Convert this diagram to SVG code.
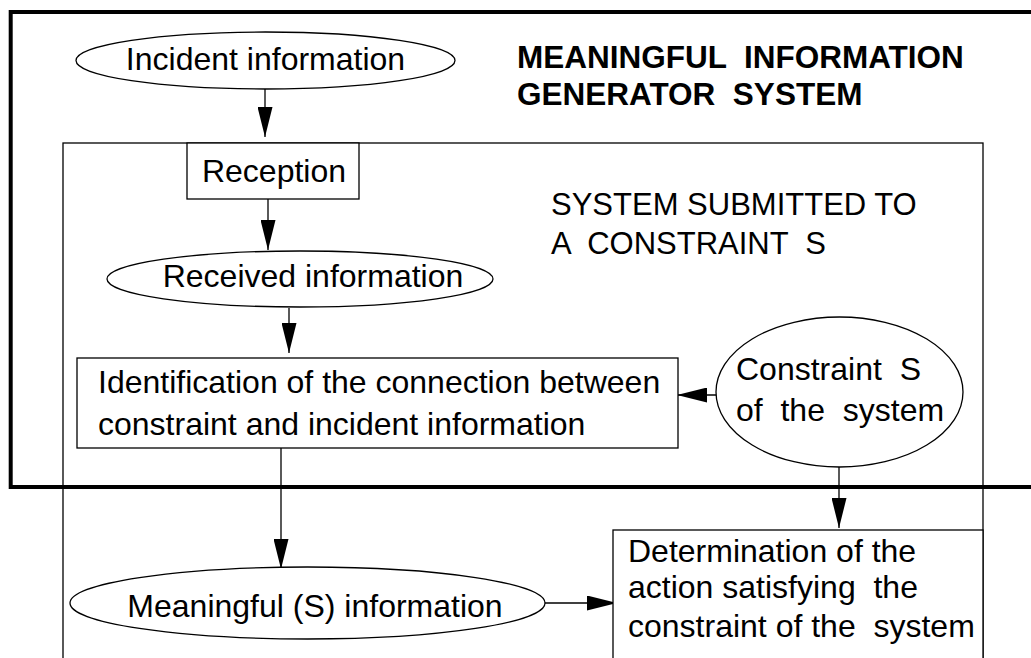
<svg xmlns="http://www.w3.org/2000/svg" width="1031" height="658" viewBox="0 0 1031 658">
<style>
.t{font-family:"Liberation Sans",Arial,sans-serif;font-size:32px;fill:#000;white-space:pre}
.b{font-weight:bold;font-size:31.5px}
.n{font-size:31px}
.m{text-anchor:middle}
.s{fill:#fff;stroke:#000;stroke-width:1.3}
.c{fill:none;stroke:#000;stroke-width:1.3}
</style>
<defs>
<marker id="ah" viewBox="0 0 30 15" refX="30" refY="7.5" markerWidth="30" markerHeight="15" orient="auto" markerUnits="userSpaceOnUse">
<path d="M0,0 L30,7.5 L0,15 z" fill="#000"/>
</marker>
</defs>
<rect width="1031" height="658" fill="#fff"/>
<g id="generator-system">
<rect x="10.7" y="12" width="1040" height="475" fill="none" stroke="#000" stroke-width="4"/>
<text class="t b" x="517" y="68">MEANINGFUL  INFORMATION</text>
<text class="t b" x="517" y="105">GENERATOR  SYSTEM</text>
</g>
<g id="submitted-system">
<rect x="63" y="143" width="920" height="540" fill="none" stroke="#000" stroke-width="1.3"/>
<text class="t n" x="551" y="215">SYSTEM SUBMITTED TO</text>
<text class="t n" x="551" y="254">A  CONSTRAINT  S</text>
</g>
<g id="connectors">
<path class="c" d="M265,89 L265,137" marker-end="url(#ah)"/>
<path class="c" d="M268,199 L268,250" marker-end="url(#ah)"/>
<path class="c" d="M289,308 L289,353" marker-end="url(#ah)"/>
<path class="c" d="M716,395 L677,395" marker-end="url(#ah)"/>
<path class="c" d="M839,467 L839,528" marker-end="url(#ah)"/>
<path class="c" d="M281,448 L281,569" marker-end="url(#ah)"/>
<path class="c" d="M545,603 L617,603" marker-end="url(#ah)"/>
</g>
<g id="incident">
<ellipse class="s" cx="265.5" cy="60.5" rx="189.5" ry="28.5"/>
<text class="t m" x="265.5" y="70">Incident information</text>
</g>
<g id="reception">
<rect class="s" x="187" y="143" width="172" height="56"/>
<text class="t m" x="274" y="182">Reception</text>
</g>
<g id="received">
<ellipse class="s" cx="300" cy="279" rx="193" ry="28"/>
<text class="t m" x="313" y="287">Received information</text>
</g>
<g id="identification">
<rect class="s" x="77" y="358" width="601" height="90"/>
<text class="t" x="98" y="393">Identification of the connection between</text>
<text class="t" x="98" y="435">constraint and incident information</text>
</g>
<g id="constraint">
<ellipse class="s" cx="839.5" cy="392" rx="123.5" ry="75"/>
<text class="t" x="736" y="380">Constraint  S</text>
<text class="t" x="736" y="421">of  the  system</text>
</g>
<g id="meaningful">
<ellipse class="s" cx="307.5" cy="603" rx="237.5" ry="36"/>
<text class="t m" x="315" y="617">Meaningful (S) information</text>
</g>
<g id="determination">
<rect class="s" x="613" y="530" width="370" height="150"/>
<text class="t" x="628" y="562">Determination of the</text>
<text class="t" x="628" y="598">action satisfying  the</text>
<text class="t" x="628" y="637">constraint of the  system</text>
</g>
</svg>
